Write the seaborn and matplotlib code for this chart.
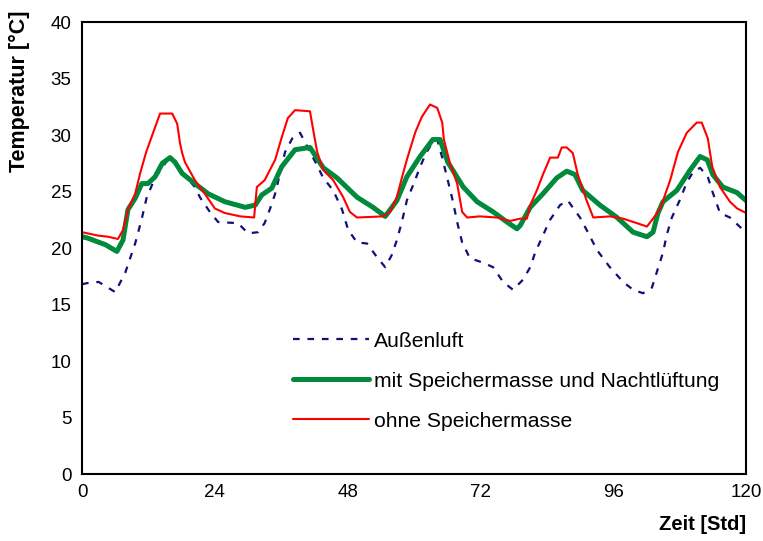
import matplotlib
matplotlib.use("Agg")
import matplotlib.pyplot as plt
import seaborn as sns

# Außenluft (outside air)
hours_aussen = [0, 1, 3, 6, 7.8, 8.7, 9.6, 10.1, 10.8, 11.7,
                13.2, 15.9, 18.1, 20.4, 21.3, 23.1, 24.6, 28.2, 30, 31.8,
                33, 34, 34.9, 36.7, 38, 39.4, 42.5, 43.6, 45.4, 47,
                48.1, 49.7, 51.5, 53.3, 54.8, 56, 56.9, 57.8, 58.7, 60.2,
                61.1, 62.3, 63.3, 64.2, 65.1, 66, 67, 67.8, 68.7, 70.1,
                72.5, 74.3, 76.1, 77.9, 79.7, 81, 81.9, 83.1, 84.6, 86.4,
                87.8, 90, 91.2, 93.1, 95.4, 97.8, 99.6, 101.4, 103, 103.9,
                105, 105.7, 106.6, 108, 109.3, 110.4, 111.7, 113.1, 114, 115.3,
                117.1, 119.5, 120]
temp_aussen = [16.8, 16.9, 17.0, 16.1, 17.8, 19.1, 20.4, 21.3, 22.6, 24.5,
               26.2, 28.1, 26.7, 25.4, 24.5, 23.2, 22.3, 22.2, 21.3, 21.4,
               22.2, 23.5, 24.8, 28.5, 29.7, 30.2, 27.3, 26.2, 25.1, 23.4,
               21.6, 20.5, 20.4, 19.2, 18.3, 19.4, 20.7, 22.3, 24.2, 26.0,
               27.2, 28.5, 29.3, 29.6, 28.0, 26.2, 24.2, 22.3, 20.5, 19.1,
               18.7, 18.3, 17.0, 16.3, 17.2, 18.3, 19.6, 20.9, 22.5, 23.8,
               24.2, 22.7, 21.6, 19.8, 18.3, 17.0, 16.3, 16.0, 16.5, 17.9,
               19.6, 21.2, 22.7, 24.2, 25.8, 26.7, 27.1, 26.3, 24.9, 23.1,
               22.7, 21.6, 21.4]

# mit Speichermasse und Nachtlüftung
hours_speicher = [0, 0.9, 4.2, 6.3, 7.4, 8.3, 9.6, 10.8, 11.9, 13.2,
                  14.5, 15.9, 16.8, 18.1, 20.4, 22.8, 25.8, 29.5, 31.3, 32.5,
                  34.3, 36.1, 38.5, 41.2, 43.6, 46.1, 49.7, 52.6, 54.8, 56.9,
                  58.7, 61.1, 63.4, 64.7, 66.1, 68.9, 71.4, 74.3, 76.8, 78.6,
                  79.2, 81, 83.3, 85.8, 87.6, 89.1, 90.5, 93.6, 96.7, 99.6,
                  102.1, 103.2, 104.1, 105, 107.5, 109.9, 111.7, 113, 114, 115.8,
                  118.4, 120]
temp_speicher = [21.0, 20.9, 20.3, 19.7, 20.7, 23.4, 24.4, 25.7, 25.7, 26.3,
                 27.5, 28.0, 27.6, 26.6, 25.7, 24.8, 24.1, 23.6, 23.8, 24.7,
                 25.3, 27.2, 28.7, 28.9, 27.1, 26.2, 24.5, 23.6, 22.8, 24.2,
                 26.3, 28.1, 29.6, 29.6, 27.6, 25.4, 24.1, 23.2, 22.3, 21.7,
                 22.0, 23.6, 24.8, 26.2, 26.8, 26.5, 25.1, 23.8, 22.7, 21.4,
                 21.0, 21.4, 23.1, 24.1, 25.1, 26.9, 28.1, 27.8, 26.5, 25.4,
                 24.9, 24.2]

# ohne Speichermasse
hours_ohne = [0, 2.9, 4.7, 6.5, 7.4, 8.3, 9.6, 10.5, 11.6, 12.7,
              14.1, 16.3, 17.2, 17.7, 18.1, 18.6, 20.4, 22.2, 24, 25.8,
              28.6, 31.1, 31.6, 33, 34.9, 36.1, 37.2, 38.5, 41.2, 41.8,
              42.5, 43.6, 45.4, 47.2, 48.4, 49.7, 54.4, 55.7, 56.9, 57.8,
              58.7, 60.2, 61.4, 62.9, 64.2, 65.1, 65.4, 66.5, 67.8, 68.7,
              69.6, 71.9, 75, 77.4, 79.2, 80.4, 81, 82.2, 83.3, 84.6,
              86, 86.7, 87.6, 88.7, 89.6, 91.2, 92.4, 95.4, 97.8, 100.3,
              102.1, 103.2, 104.5, 106.3, 107.7, 109.3, 111.1, 112, 113.1, 113.9,
              115.3, 117.1, 118.4, 120]
temp_ohne = [21.4, 21.1, 21.0, 20.8, 21.6, 23.4, 24.8, 26.6, 28.5, 30.0,
             31.9, 31.9, 31.0, 29.3, 28.4, 27.6, 26.0, 24.8, 23.5, 23.1,
             22.8, 22.7, 25.4, 26.0, 27.8, 29.8, 31.5, 32.2, 32.1, 30.4,
             28.5, 26.9, 26.0, 24.5, 23.2, 22.7, 22.8, 23.2, 24.5, 26.2,
             27.8, 30.2, 31.6, 32.7, 32.4, 31.1, 29.6, 27.5, 25.7, 23.2,
             22.7, 22.8, 22.7, 22.4, 22.6, 22.6, 23.8, 25.1, 26.5, 28.0,
             28.0, 28.9, 28.9, 28.4, 26.5, 24.2, 22.7, 22.8, 22.6, 22.2,
             21.9, 22.6, 23.5, 26.0, 28.5, 30.2, 31.1, 31.1, 29.7, 27.2,
             25.4, 24.1, 23.5, 23.1]

x_ticks = [0, 24, 48, 72, 96, 120]
y_ticks = [0, 5, 10, 15, 20, 25, 30, 35, 40]

sns.set_style("white")
plt.rcParams['font.family'] = ['Liberation Sans', 'DejaVu Sans']
plt.rcParams['text.color'] = 'black'
plt.rcParams['axes.labelcolor'] = 'black'

fig = plt.figure(figsize=(7.63, 5.41), dpi=100)
ax = fig.add_axes([0.1075, 0.1238, 0.8702, 0.8355])

sns.lineplot(x=hours_aussen, y=temp_aussen, ax=ax, color='#10107a',
             linewidth=1.6, linestyle=(0, (3, 3.5)), label='Außenluft')
sns.lineplot(x=hours_speicher, y=temp_speicher, ax=ax, color='#008a3c',
             linewidth=3.6, label='mit Speichermasse und Nachtlüftung')
sns.lineplot(x=hours_ohne, y=temp_ohne, ax=ax, color='#ff0000',
             linewidth=1.5, label='ohne Speichermasse')

ax.set_xlim(0, 120)
ax.set_ylim(0, 40)
ax.set_xticks(x_ticks)
ax.set_yticks(y_ticks)
ax.tick_params(direction='inout', length=9, width=1.3, labelsize=13.5,
               colors='black', labelcolor='black', pad=3)
for side in ax.spines.values():
    side.set_color('black')
    side.set_linewidth(1.5)

ax.set_ylabel("Temperatur [°C]", fontsize=15.5, fontweight='bold', loc='top')
ax.yaxis.set_label_coords(-0.078, 1.025)
ax.set_xlabel("Zeit [Std]", fontsize=14.5, fontweight='bold', loc='right',
              labelpad=10)

ax.legend(loc='upper left', bbox_to_anchor=(0.318, 0.315), frameon=False,
          fontsize=15.2, handlelength=3.6, handletextpad=0.25,
          labelspacing=1.0, borderpad=0, borderaxespad=0, labelcolor='black')

plt.savefig("out.png", dpi=100)
